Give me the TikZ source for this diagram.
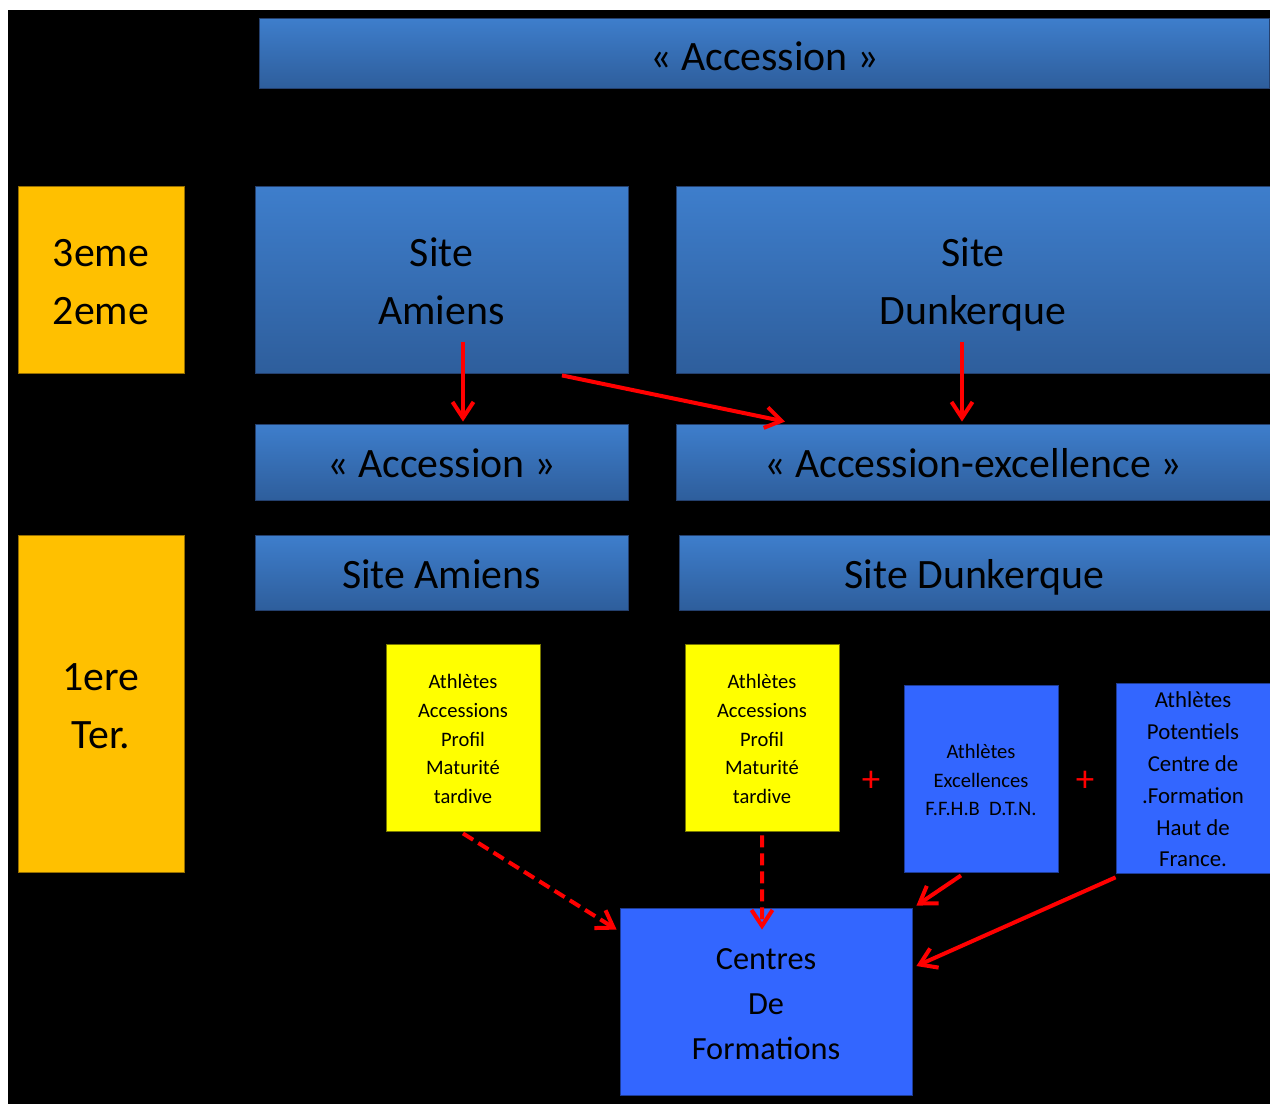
\documentclass[tikz,border=0pt]{standalone}
\usepackage{fontspec}
\setmainfont{Carlito}
\usetikzlibrary{arrows.meta}
\definecolor{gtop}{RGB}{62,126,204}
\definecolor{gbot}{RGB}{46,94,156}
\definecolor{gline}{RGB}{36,64,110}
\definecolor{orng}{RGB}{255,192,0}
\definecolor{orngline}{RGB}{150,110,0}
\definecolor{yel}{RGB}{255,255,0}
\definecolor{yelline}{RGB}{120,120,0}
\definecolor{bblue}{RGB}{51,102,255}
\definecolor{bline}{RGB}{30,60,150}
\definecolor{arred}{RGB}{255,0,0}
% struts: \topst{height} at start of first line, \botst{depth} at end of last line
\newcommand{\topst}[1]{\rule{0pt}{#1}}
\newcommand{\botst}[1]{\rule[-#1]{0pt}{0pt}}
\tikzset{
  bigtxt/.style={font=\fontsize{23.8}{32.9}\selectfont, text=black, align=center},
  gradbox/.style={draw=gline, line width=0.5pt, top color=gtop, bottom color=gbot, inner sep=0pt, bigtxt},
  orbox/.style={draw=orngline, line width=0.5pt, fill=orng, inner sep=0pt, bigtxt},
  ybox/.style={draw=yelline, line width=0.5pt, fill=yel, inner sep=0pt, align=center, font=\fontsize{11.7}{16.4}\selectfont},
  bbox/.style={draw=bline, line width=0.5pt, fill=bblue, inner sep=0pt, align=center},
  arr/.style={draw=arred, line width=0.08cm, -{Straight Barb[length=0.32cm, width=0.42cm]}},
  darr/.style={arr, dash pattern=on 0.24cm off 0.12cm},
  plus/.style={text=arred, font=\fontsize{21}{21}\selectfont}
}
\begin{document}
\begin{tikzpicture}[x=0.02cm, y=-0.02cm]
\useasboundingbox (0,0) rectangle (1270,1104);
\clip (0,0) rectangle (1270,1104);
\fill[white] (0,0) rectangle (1270,1104);
\fill[black] (8,10) rectangle (1270,1104);

% row boxes
\node[gradbox, minimum width=20.22cm, minimum height=1.4cm] (top) at (764.5,53) {\topst{28.2pt}« Accession »\botst{8pt}};
\node[orbox, minimum width=3.32cm, minimum height=3.74cm] (o1) at (101,279.5) {\topst{26.2pt}3eme\\2eme\botst{8pt}};
\node[gradbox, minimum width=7.46cm, minimum height=3.74cm] (sa) at (441.5,279.5) {\topst{26.2pt}Site\\Amiens\botst{8pt}};
\node[gradbox, minimum width=11.88cm, minimum height=3.74cm] (sd) at (973,279.5) {\topst{26.2pt}Site\\Dunkerque\botst{8pt}};
\node[gradbox, minimum width=7.46cm, minimum height=1.52cm] (acc) at (441.5,462) {\topst{26.2pt}« Accession »\botst{8pt}};
\node[gradbox, minimum width=11.88cm, minimum height=1.52cm] (accx) at (973,462) {\topst{26.2pt}« Accession-excellence »\botst{8pt}};
\node[orbox, minimum width=3.32cm, minimum height=6.74cm] (o2) at (101,703.5) {\topst{26.2pt}1ere\\Ter.\botst{8pt}};
\node[gradbox, minimum width=7.46cm, minimum height=1.5cm] (sa2) at (441.5,572.5) {\topst{26.2pt}Site Amiens\botst{8pt}};
\node[gradbox, minimum width=11.82cm, minimum height=1.5cm] (sd2) at (974.5,572.5) {\topst{26.2pt}Site Dunkerque\botst{8pt}};

% lower boxes
\node[ybox, minimum width=3.08cm, minimum height=3.74cm] (y1) at (463,737.5) {\topst{13.3pt}Athlètes\\Accessions\\Profil\\Maturité\\tardive\botst{3.5pt}};
\node[ybox, minimum width=3.08cm, minimum height=3.74cm] (y2) at (762,737.5) {\topst{13.3pt}Athlètes\\Accessions\\Profil\\Maturité\\tardive\botst{3.5pt}};
\node[bbox, minimum width=3.08cm, minimum height=3.74cm, font=\fontsize{11.7}{16.4}\selectfont] (be) at (981,778.5) {\topst{13.3pt}Athlètes\\Excellences\\F.F.H.B\ \ D.T.N.\botst{3.5pt}};
\node[bbox, minimum width=3.08cm, minimum height=3.74cm, font=\fontsize{13}{18.1}\selectfont] (bp) at (1193,778.5) {\topst{14.1pt}Athlètes\\Potentiels\\Centre de\\.Formation\\Haut de\\France.\botst{4pt}};
\node[bbox, minimum width=5.84cm, minimum height=3.74cm, font=\fontsize{18.4}{25.5}\selectfont] (cf) at (766,1001.5) {\topst{20.6pt}Centres\\De\\Formations\botst{6pt}};

\node[plus] (p1) at (871,781) {+};
\node[plus] (p2) at (1085,781) {+};

% arrows
\draw[arr] ([xshift=0.43cm, yshift=0.62cm]sa.south) -- ([xshift=0.43cm, yshift=0.04cm]acc.north);
\draw[arr] ([xshift=-0.22cm, yshift=0.62cm]sd.south) -- ([xshift=-0.22cm, yshift=0.04cm]accx.north);
\draw[arr] ([xshift=2.41cm, yshift=-0.04cm]sa.south) -- ([xshift=-3.76cm, yshift=0.04cm]accx.north);
\draw[darr] ([yshift=-0.04cm]y1.south) -- ([xshift=-0.06cm, yshift=-0.44cm]cf.north west);
\draw[darr] ([yshift=-0.08cm]y2.south) -- ([xshift=-0.08cm, yshift=-0.44cm]cf.north);
\draw[arr] ([xshift=-0.4cm, yshift=-0.06cm]be.south) -- ([xshift=0.08cm, yshift=0.04cm]cf.north east);
\draw[arr] ([yshift=-0.06cm]bp.south west) -- ([xshift=0.08cm, yshift=0.71cm]cf.east);
\end{tikzpicture}
\end{document}
